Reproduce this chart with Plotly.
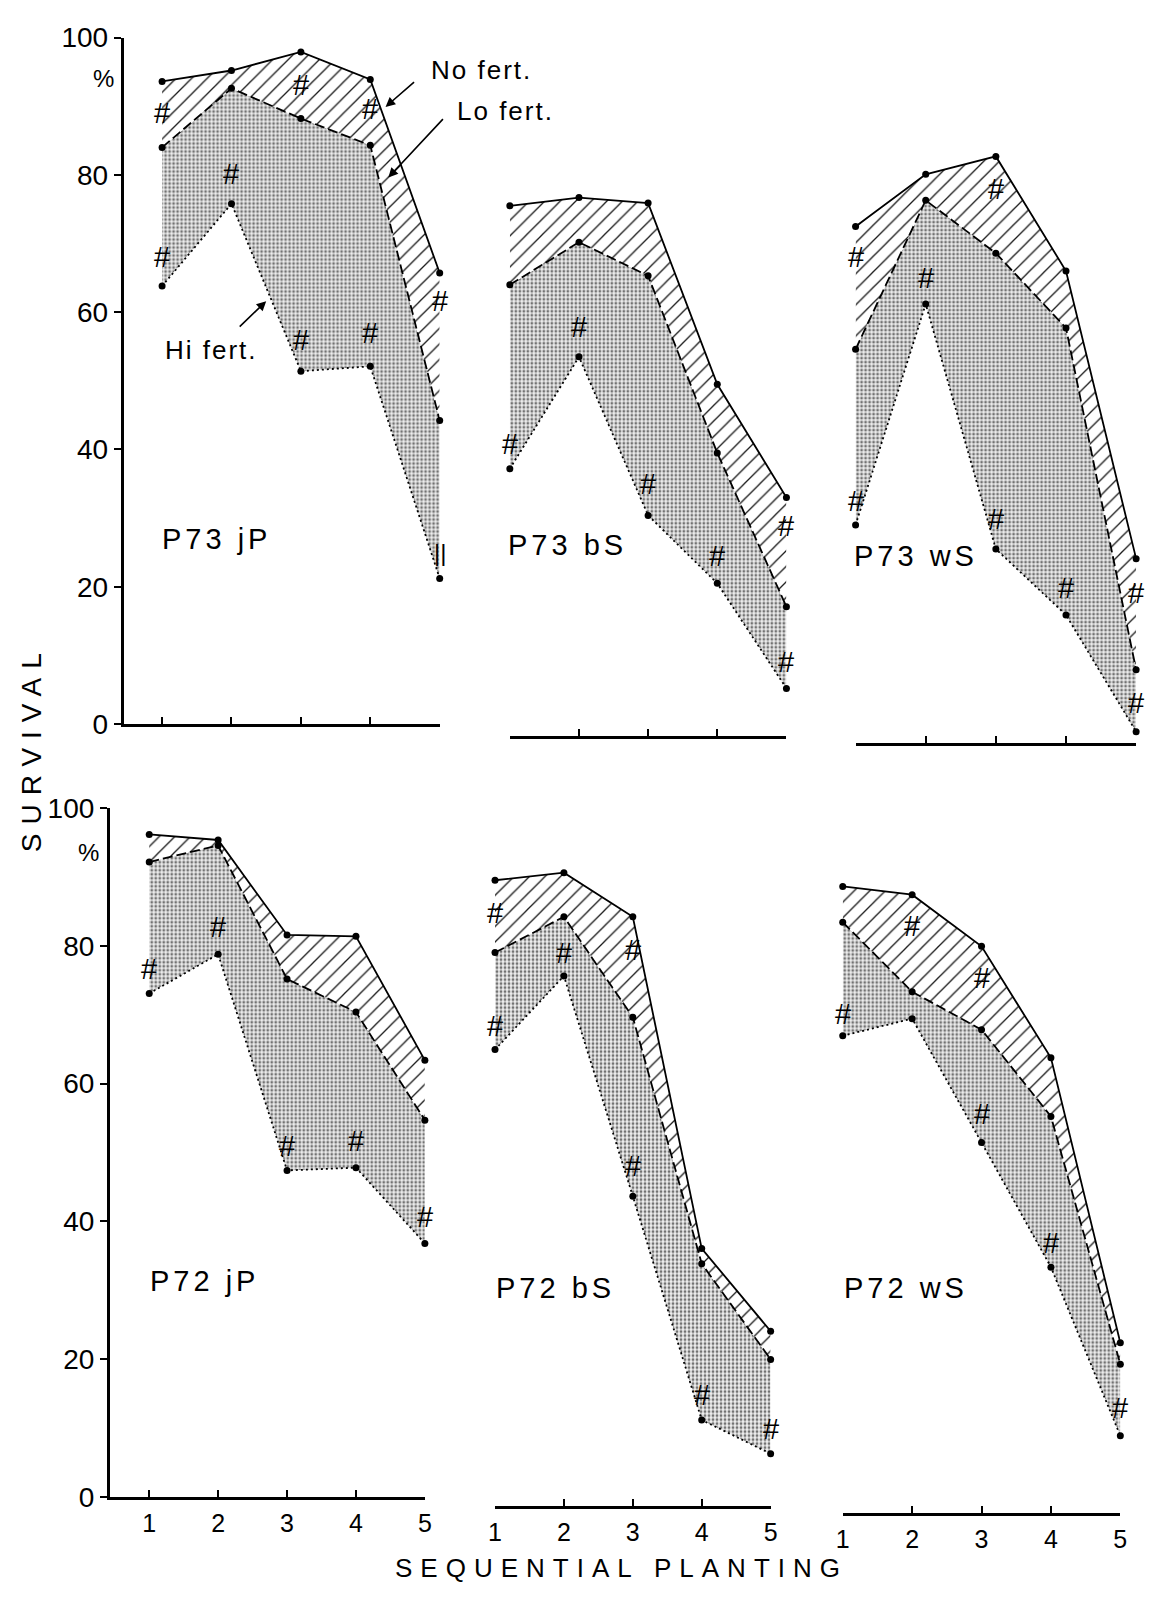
import plotly.graph_objects as go

W, H = 1154, 1599

# ---- data: survival (%) by sequential planting ----
planting = [1, 2, 3, 4, 5]
tick_vals_y = [0, 20, 40, 60, 80, 100]
panel_titles = ["P73 jP", "P73 bS", "P73 wS", "P72 jP", "P72 bS", "P72 wS"]

p73_jp_no = [93.6, 95.2, 97.9, 93.9, 65.7]
p73_jp_lo = [84.0, 92.6, 88.2, 84.3, 44.2]
p73_jp_hi = [63.8, 75.8, 51.4, 52.1, 21.2]

p73_bs_no = [77.2, 78.4, 77.6, 51.2, 34.7]
p73_bs_lo = [65.7, 71.9, 67.0, 41.2, 18.8]
p73_bs_hi = [38.9, 55.2, 32.1, 22.2, 6.9]

p73_ws_no = [75.2, 82.8, 85.4, 68.7, 26.8]
p73_ws_lo = [57.3, 79.0, 71.3, 60.4, 10.6]
p73_ws_hi = [31.7, 63.9, 28.2, 18.6, 1.6]

p72_jp_no = [96.2, 95.4, 81.6, 81.4, 63.4]
p72_jp_lo = [92.2, 94.6, 75.2, 70.4, 54.7]
p72_jp_hi = [73.1, 78.8, 47.4, 47.8, 36.8]

p72_bs_no = [90.9, 92.0, 85.6, 37.4, 25.4]
p72_bs_lo = [80.4, 85.6, 71.0, 35.2, 21.3]
p72_bs_hi = [66.3, 77.0, 45.0, 12.5, 7.6]

p72_ws_no = [91.0, 89.8, 82.3, 66.1, 24.7]
p72_ws_lo = [85.8, 75.7, 70.2, 57.6, 21.6]
p72_ws_hi = [69.3, 71.8, 53.8, 35.7, 11.2]

# significance marks (planting, survival) per panel
p73_jp_sig_x = [1, 2, 1, 3, 4, 3, 4, 5]
p73_jp_sig_y = [89.0, 80.1, 68.0, 93.1, 89.6, 56.0, 56.9, 61.6]
p73_bs_sig_x = [2, 1, 3, 4, 5, 5]
p73_bs_sig_y = [59.6, 42.5, 36.7, 26.2, 10.8, 30.6]
p73_ws_sig_x = [1, 2, 3, 1, 3, 4, 5, 5]
p73_ws_sig_y = [70.7, 67.7, 80.6, 35.2, 32.6, 22.5, 21.8, 5.8]
p72_jp_sig_x = [1, 2, 3, 4, 5]
p72_jp_sig_y = [76.6, 82.7, 51.0, 51.6, 40.6]
p72_bs_sig_x = [1, 2, 1, 3, 3, 4, 5]
p72_bs_sig_y = [86.1, 80.3, 69.7, 80.8, 49.4, 16.2, 11.2]
p72_ws_sig_x = [2, 3, 1, 3, 4, 5]
p72_ws_sig_y = [85.3, 77.7, 72.5, 57.9, 39.2, 15.3]
# the last-planting mark in P73 jP is a plain double bar
p73_jp_bar_x = [5]
p73_jp_bar_y = [25.0]

no_series = [p73_jp_no, p73_bs_no, p73_ws_no, p72_jp_no, p72_bs_no, p72_ws_no]
lo_series = [p73_jp_lo, p73_bs_lo, p73_ws_lo, p72_jp_lo, p72_bs_lo, p72_ws_lo]
hi_series = [p73_jp_hi, p73_bs_hi, p73_ws_hi, p72_jp_hi, p72_bs_hi, p72_ws_hi]
sig_x = [p73_jp_sig_x, p73_bs_sig_x, p73_ws_sig_x, p72_jp_sig_x, p72_bs_sig_x, p72_ws_sig_x]
sig_y = [p73_jp_sig_y, p73_bs_sig_y, p73_ws_sig_y, p72_jp_sig_y, p72_bs_sig_y, p72_ws_sig_y]

# ---- panel frames in page pixels: left, right, y of 0 %, y of 100 %, x range ----
frames = [
    (118, 438, 723.0, 23.0, [0.445, 5]),
    (509, 789, 735.0, 35.0, [1, 5]),
    (859, 1143, 742.0, 42.0, [1, 5]),
    (104, 423, 1511.0, 809.0, [0.427, 5]),
    (494, 773, 1520.5, 818.5, [1, 5]),
    (846, 1127, 1527.5, 825.5, [1, 5]),
]
label_px = [(155, 534), (505, 540), (855, 552), (143, 1291), (493, 1298), (845, 1298)]

FONT = "Liberation Sans, Arial, Helvetica, sans-serif"


def px(xp):
    return xp / W


def py(yp):
    return 1 - yp / H


def page_text(xp, yp, text, size, xanchor="center", **kw):
    return dict(x=px(xp), y=py(yp), xref="paper", yref="paper",
                xanchor=xanchor, yanchor="middle", text=text, showarrow=False,
                font=dict(size=size, family=FONT, color="black"), **kw)


stipple = dict(shape=".", size=4, solidity=0.4, fgcolor="#727272",
               bgcolor="#eeeeee", fillmode="replace")
hatch = dict(shape="/", size=11, solidity=0.12, fgcolor="#1a1a1a",
             bgcolor="white", fillmode="replace")
dot_marker = dict(size=7, color="black")

fig = go.Figure()
layout = dict(
    width=W, height=H, margin=dict(l=0, r=0, t=0, b=0),
    paper_bgcolor="white", plot_bgcolor="rgba(0,0,0,0)",
    showlegend=False, font=dict(family=FONT, color="black"),
)
annotations = []

for i in range(6):
    n = i + 1
    xa = "x" if n == 1 else f"x{n}"
    ya = "y" if n == 1 else f"y{n}"
    left, right, y0, y100, xr = frames[i]

    common = dict(x=planting, xaxis=xa, yaxis=ya, mode="lines+markers",
                  marker=dot_marker, cliponaxis=False, hoverinfo="skip")
    # Hi fert. (dotted), then Lo fert. (dashed) stippled down to it,
    # then No fert. (solid) hatched down to Lo fert.
    fig.add_trace(go.Scatter(y=hi_series[i], line=dict(color="black", width=1.8, dash="2px,3px"),
                             name="Hi fert.", **common))
    fig.add_trace(go.Scatter(y=lo_series[i], line=dict(color="black", width=1.8, dash="10px,4px"),
                             fill="tonexty", fillpattern=stipple, name="Lo fert.", **common))
    fig.add_trace(go.Scatter(y=no_series[i], line=dict(color="black", width=1.8),
                             fill="tonexty", fillpattern=hatch, name="No fert.", **common))

    bottom_row = i >= 3
    left_col = i % 3 == 0
    layout["xaxis" if n == 1 else f"xaxis{n}"] = dict(
        domain=[px(left), px(right)], range=xr, anchor=ya,
        showline=True, linecolor="black", linewidth=2.6,
        ticks="inside", ticklen=7, tickwidth=1.6, tickcolor="black",
        tickvals=planting, showticklabels=bottom_row,
        tickfont=dict(size=25, family=FONT), ticklabelstandoff=2,
        showgrid=False, zeroline=False, fixedrange=True,
    )
    layout["yaxis" if n == 1 else f"yaxis{n}"] = dict(
        domain=[py(y0), py(y100)], range=[0, 100], anchor=xa,
        visible=left_col, showline=left_col, linecolor="black", linewidth=2.6,
        ticks="outside", ticklen=7, tickwidth=1.6, tickcolor="black",
        tickvals=tick_vals_y, tickfont=dict(size=28, family=FONT),
        showgrid=False, zeroline=False, fixedrange=True,
    )

    for sx, sy in zip(sig_x[i], sig_y[i]):
        annotations.append(dict(x=sx, y=sy, xref=xa, yref=ya, text="#",
                                xanchor="center", yanchor="middle",
                                showarrow=False, font=dict(size=29, family=FONT)))

    lx, ly = label_px[i]
    annotations.append(page_text(
        lx, ly, f'<span style="letter-spacing:4px">{panel_titles[i]}</span>', 29,
        xanchor="left"))

for bx, by in zip(p73_jp_bar_x, p73_jp_bar_y):
    annotations.append(dict(x=bx, y=by, xref="x", yref="y", text="||",
                            xanchor="center", yanchor="middle",
                            showarrow=False, font=dict(size=24, family=FONT)))

# percent sign under the 100 % tick
annotations.append(page_text(98, 65, "%", 24))
annotations.append(page_text(83, 854, "%", 24))

# treatment labels with pointer arrows (P73 jP panel)
arrow = dict(xref="x", yref="y", text="", showarrow=True, arrowhead=2,
             arrowsize=1.2, arrowwidth=1.6, arrowcolor="black")
annotations += [
    dict(x=4.22, y=89.9, ax=30, ay=-26, **arrow),
    dict(x=4.26, y=79.6, ax=56, ay=-60, **arrow),
    dict(x=2.50, y=61.6, ax=-28, ay=27, **arrow),
    page_text(427, 56, '<span style="letter-spacing:2px">No fert.</span>', 26, xanchor="left"),
    page_text(453, 98, '<span style="letter-spacing:2px">Lo fert.</span>', 26, xanchor="left"),
    page_text(158, 342, '<span style="letter-spacing:2px">Hi fert.</span>', 26, xanchor="left"),
]

# axis titles
annotations += [
    page_text(25, 748, '<span style="letter-spacing:9px">SURVIVAL</span>', 28, textangle=-90),
    page_text(622, 1584, '<span style="letter-spacing:8px">SEQUENTIAL PLANTING</span>', 26),
]

layout["annotations"] = annotations
fig.update_layout(**layout)
fig.write_html("out.html")
